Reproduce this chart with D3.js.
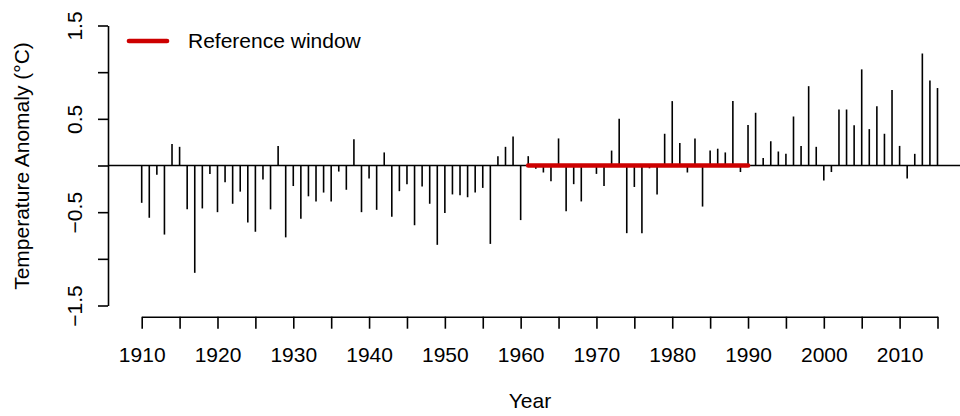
<!DOCTYPE html>
<html>
<head>
<meta charset="utf-8">
<script src="https://cdn.jsdelivr.net/npm/d3@7"></script>
<style>
  body { margin: 0; background: #fff; }
  svg text { font-family: "Liberation Sans", Arial, Helvetica, sans-serif; }
</style>
</head>
<body>
<script>
//years on the x axis
var years = d3.range(1910, 2016);

//annual temperature anomalies, one per year
var anomaly = [
  -0.40, -0.56, -0.10, -0.74, 0.23, 0.20, -0.47, -1.15, -0.46, -0.09,
  -0.50, -0.18, -0.41, -0.28, -0.61, -0.71, -0.15, -0.47, 0.21, -0.77,
  -0.22, -0.57, -0.33, -0.385, -0.29, -0.385, -0.065, -0.26, 0.28, -0.50,
  -0.14, -0.475, 0.14, -0.55, -0.275, -0.20, -0.64, -0.225, -0.41, -0.85,
  -0.51, -0.31, -0.32, -0.34, -0.29, -0.24, -0.84, 0.10, 0.20, 0.31,
  -0.585, 0.10, -0.035, -0.075, -0.17, 0.29, -0.49, -0.20, -0.385, 0.01,
  -0.09, -0.22, 0.16, 0.50, -0.725, -0.23, -0.725, -0.03, -0.31, 0.34,
  0.69, 0.24, -0.075, 0.29, -0.44, 0.16, 0.18, 0.14, 0.69, -0.07,
  0.435, 0.565, 0.08, 0.26, 0.15, 0.125, 0.525, 0.21, 0.85, 0.20,
  -0.16, -0.07, 0.60, 0.60, 0.43, 1.03, 0.39, 0.635, 0.34, 0.81,
  0.21, -0.14, 0.125, 1.20, 0.91, 0.83
];

//reference window years
var refWindow = [1961, 1990];

//axis ticks
var xTicks = d3.range(1910, 2016, 5);
var yTicks = [-1.5, -1, -0.5, 0, 0.5, 1, 1.5];

var data = years.map((yr, i) => ({year: yr, value: anomaly[i]}));

//size and plot box
var width = 960, height = 416;
var plotLeft = 108, plotRight = 968;
var fontSize = "21px";

//scales
var x = d3.scaleLinear().domain([1910, 2015]).range([141.7, 937.5]);
var y = d3.scaleLinear().domain([-1.5, 1.5]).range([305.5, 25.5]);

var svg = d3.select("body").append("svg")
    .attr("width", width)
    .attr("height", height);

//zero line across the plot
svg.append("line")
    .attr("x1", plotLeft)
    .attr("x2", plotRight)
    .attr("y1", y(0))
    .attr("y2", y(0))
    .attr("stroke", "black")
    .attr("stroke-width", 1.6);

//one vertical line per year
svg.selectAll(".spike")
    .data(data)
    .enter().append("line")
    .attr("class", "spike")
    .attr("x1", d => x(d.year))
    .attr("x2", d => x(d.year))
    .attr("y1", y(0))
    .attr("y2", d => y(d.value))
    .attr("stroke", "black")
    .attr("stroke-width", 1.6);

//red reference window segment
svg.append("line")
    .attr("x1", x(refWindow[0]))
    .attr("x2", x(refWindow[1]))
    .attr("y1", y(0))
    .attr("y2", y(0))
    .attr("stroke", "#cd0000")
    .attr("stroke-width", 4.7)
    .attr("stroke-linecap", "round");

//x axis
var xAxis = svg.append("g")
    .attr("transform", "translate(0,316.7)")
    .call(d3.axisBottom(x)
        .tickValues(xTicks)
        .tickSize(12)
        .tickSizeOuter(0)
        .tickPadding(18)
        .tickFormat(d => d % 10 === 0 ? d : ""));

//y axis
var yAxis = svg.append("g")
    .attr("transform", "translate(" + plotLeft + ",0)")
    .call(d3.axisLeft(y)
        .tickValues(yTicks)
        .tickSize(10)
        .tickSizeOuter(0)
        .tickFormat(d => Math.abs(d) % 1 === 0.5 ? d3.format(".1f")(d) : ""));

[xAxis, yAxis].forEach(g => {
    g.select(".domain").attr("stroke-width", 1.6);
    g.selectAll(".tick line").attr("stroke-width", 1.6);
    g.selectAll(".tick text")
        .attr("fill", "black")
        .style("font-size", fontSize);
});

//rotate the y labels like R does
yAxis.selectAll(".tick text")
    .attr("transform", "rotate(-90)")
    .attr("text-anchor", "middle")
    .attr("x", 0)
    .attr("y", -26)
    .attr("dy", 0);

//axis titles
svg.append("text")
    .attr("x", 530)
    .attr("y", 408)
    .attr("text-anchor", "middle")
    .style("font-size", fontSize)
    .text("Year");

svg.append("text")
    .attr("transform", "translate(29,166) rotate(-90)")
    .attr("text-anchor", "middle")
    .style("font-size", fontSize)
    .text("Temperature Anomaly (°C)");

//legend
svg.append("line")
    .attr("x1", 129)
    .attr("x2", 167)
    .attr("y1", 41)
    .attr("y2", 41)
    .attr("stroke", "#cd0000")
    .attr("stroke-width", 4.7)
    .attr("stroke-linecap", "round");

svg.append("text")
    .attr("x", 188)
    .attr("y", 48)
    .style("font-size", fontSize)
    .text("Reference window");
</script>
</body>
</html>
